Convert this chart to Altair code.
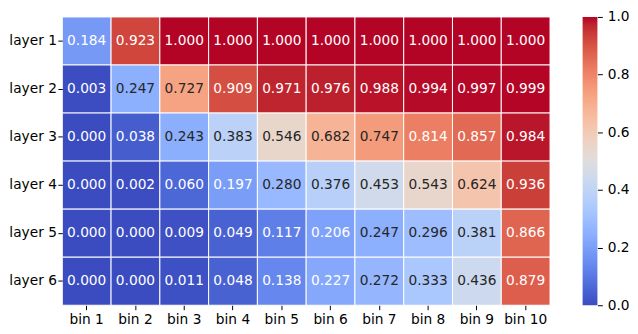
import altair as alt
import pandas as pd

layers = ["layer 1", "layer 2", "layer 3", "layer 4", "layer 5", "layer 6"]
bins = ["bin 1", "bin 2", "bin 3", "bin 4", "bin 5", "bin 6", "bin 7", "bin 8", "bin 9", "bin 10"]

layer1 = [0.184, 0.923, 1.000, 1.000, 1.000, 1.000, 1.000, 1.000, 1.000, 1.000]
layer2 = [0.003, 0.247, 0.727, 0.909, 0.971, 0.976, 0.988, 0.994, 0.997, 0.999]
layer3 = [0.000, 0.038, 0.243, 0.383, 0.546, 0.682, 0.747, 0.814, 0.857, 0.984]
layer4 = [0.000, 0.002, 0.060, 0.197, 0.280, 0.376, 0.453, 0.543, 0.624, 0.936]
layer5 = [0.000, 0.000, 0.009, 0.049, 0.117, 0.206, 0.247, 0.296, 0.381, 0.866]
layer6 = [0.000, 0.000, 0.011, 0.048, 0.138, 0.227, 0.272, 0.333, 0.436, 0.879]
rows = [layer1, layer2, layer3, layer4, layer5, layer6]

colorbar_ticks = [0.0, 0.2, 0.4, 0.6, 0.8, 1.0]
colorbar_range = [0.0, 1.0]

# coolwarm (Moreland) colormap stops
coolwarm = [
    (59, 76, 192), (68, 90, 204), (77, 104, 215), (87, 117, 225), (98, 130, 234),
    (108, 142, 241), (119, 154, 247), (130, 165, 251), (141, 176, 254), (152, 185, 255),
    (163, 194, 255), (174, 201, 253), (184, 208, 249), (194, 213, 244), (204, 217, 238),
    (213, 219, 230), (221, 221, 221), (229, 216, 209), (236, 211, 197), (241, 204, 184),
    (245, 196, 172), (247, 187, 159), (247, 177, 147), (247, 166, 134), (244, 154, 123),
    (241, 141, 111), (236, 127, 99), (229, 112, 89), (222, 96, 77), (213, 80, 67),
    (203, 62, 56), (192, 40, 47), (180, 4, 38),
]
cmap_range = ["#%02x%02x%02x" % c for c in coolwarm]
cmap_domain = [i / (len(coolwarm) - 1) for i in range(len(coolwarm))]

records = []
for lname, vals in zip(layers, rows):
    for bname, v in zip(bins, vals):
        records.append({"layer": lname, "bin": bname, "value": v})
df = pd.DataFrame(records)

FONT = "DejaVu Sans"
FS = 13.9

base = alt.Chart(df).encode(
    x=alt.X("bin:N", sort=bins, title=None,
            axis=alt.Axis(labelAngle=0, domain=False, ticks=True, tickSize=4.5,
                          tickColor="#000000", labelColor="#000000",
                          labelFontSize=FS, labelFont=FONT, labelPadding=3.5)),
    y=alt.Y("layer:N", sort=layers, title=None,
            axis=alt.Axis(domain=False, ticks=True, tickSize=4.5,
                          tickColor="#000000", labelColor="#000000",
                          labelFontSize=FS, labelFont=FONT, labelPadding=1.5)),
)

rects = base.mark_rect(stroke="white", strokeWidth=1).encode(
    color=alt.Color("value:Q",
                    scale=alt.Scale(domain=cmap_domain, range=cmap_range, interpolate="rgb"),
                    legend=None)
)

texts = base.mark_text(fontSize=FS, font=FONT).encode(
    text=alt.Text("value:Q", format=".3f"),
    color=alt.condition("datum.value >= 0.235 && datum.value <= 0.775",
                        alt.value("#262626"), alt.value("#ffffff")),
)

heat = (rects + texts).properties(width=494, height=292)

grad = alt.LinearGradient(
    gradient="linear",
    stops=[alt.GradientStop(color=c, offset=o) for c, o in zip(cmap_range, cmap_domain)],
    x1=0, x2=0, y1=1, y2=0,
)

cbar_df = pd.DataFrame({"lo": [colorbar_range[0]], "hi": [colorbar_range[1]]})
cbar = alt.Chart(cbar_df).mark_rect(color=grad).encode(
    x=alt.value(0), x2=alt.value(15),
    y=alt.Y("lo:Q", scale=alt.Scale(domain=colorbar_range, nice=False, zero=False), title=None,
            axis=alt.Axis(orient="right", values=colorbar_ticks, format=".1f", domain=False,
                          ticks=True, tickSize=5, tickColor="#000000", labelColor="#000000",
                          labelFontSize=FS, labelFont=FONT, labelPadding=5,
                          labelBaseline="middle", labelFlush=False, grid=False)),
    y2="hi:Q",
).properties(width=15, height=292)

chart = alt.hconcat(heat, cbar, spacing=32).properties(
    padding={"left": 0, "top": 0, "right": 0, "bottom": 0},
).configure(font=FONT).configure_view(stroke=None).configure_axis(grid=False)

chart.save("out.html", embed_options={"renderer": "svg", "actions": False})
